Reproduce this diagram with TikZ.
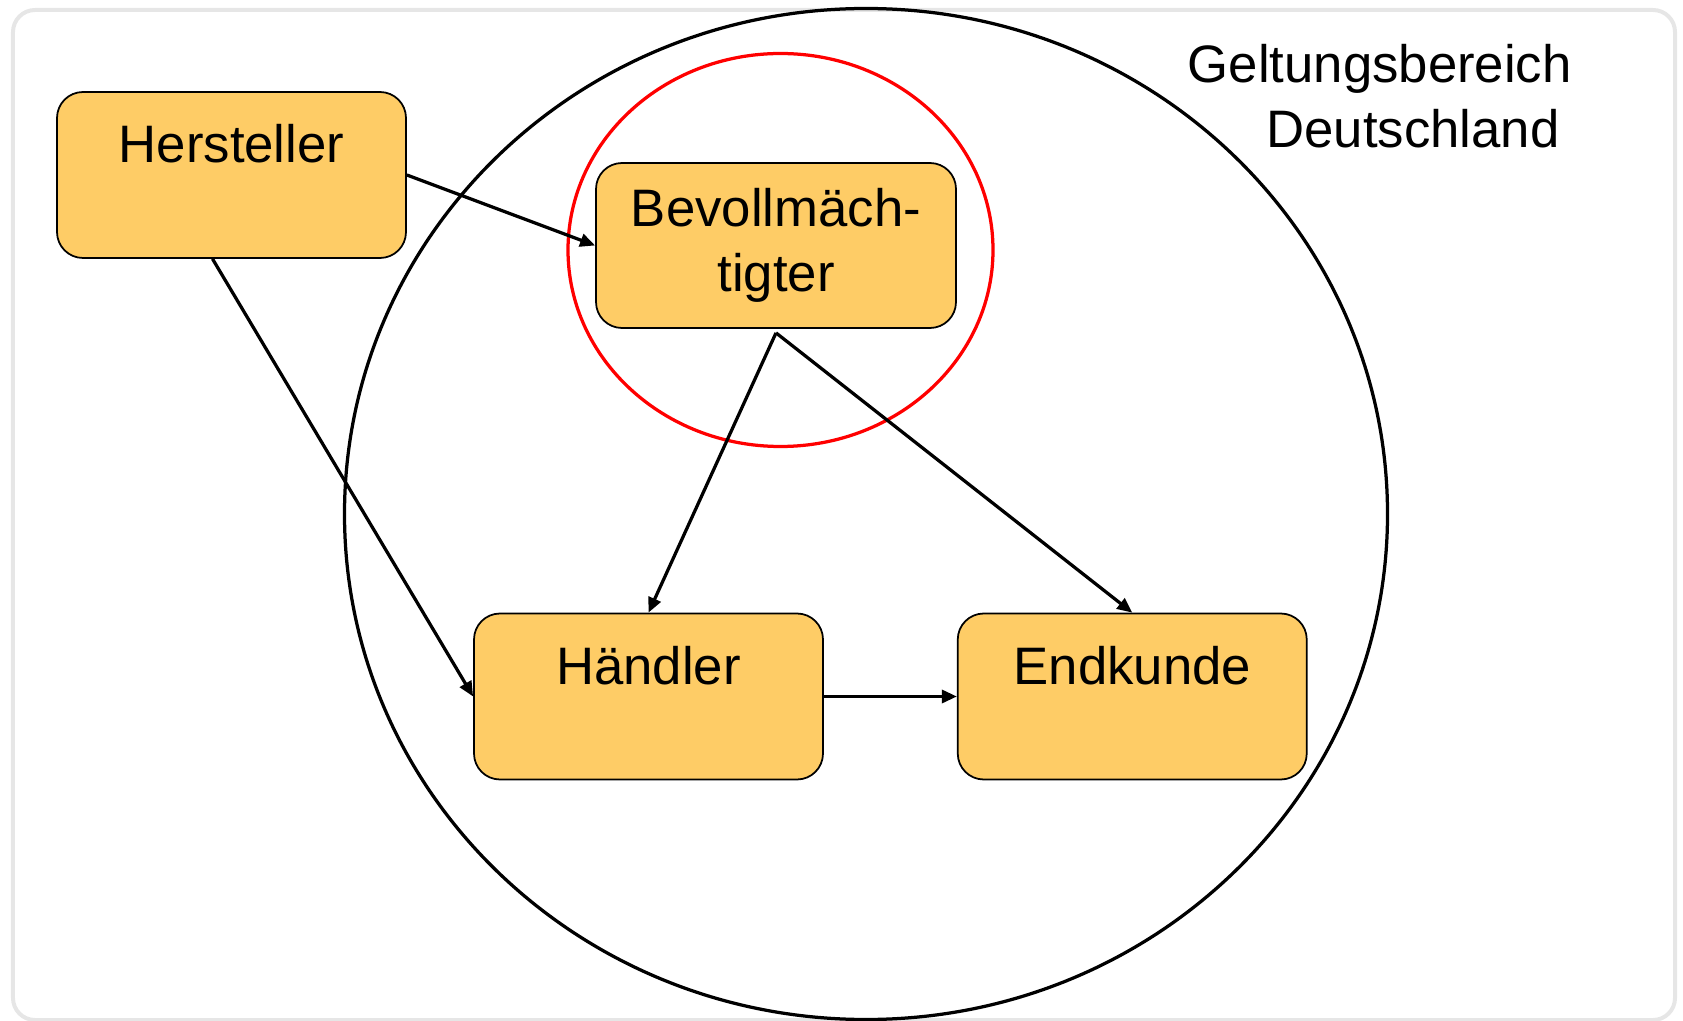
\documentclass[tikz,border=0pt]{standalone}
\usepackage{fontspec}
\setmainfont{Liberation Sans}
\usepackage{tikz}
\usetikzlibrary{arrows.meta, positioning}
\definecolor{boxgelb}{RGB}{254,204,102}
\definecolor{rahmengrau}{RGB}{230,230,230}
\tikzset{
  akteur/.style   = {draw, rounded corners=0.52cm, fill=boxgelb,
                     minimum width=6.98cm, minimum height=3.3cm,
                     line width=0.035cm, inner sep=0pt,
                     font=\fontsize{30}{37}\selectfont},
  oben/.style     = {text height=1.42cm, text depth=1.9cm},
  pfeil/.style    = {-{Triangle[length=0.3cm, width=0.26cm]}, line width=0.065cm},
  bereich/.style  = {line width=0.065cm, black},
  vollmacht/.style = {line width=0.065cm, red},
  rahmen/.style   = {draw=rahmengrau, line width=0.08cm, rounded corners=0.44cm},
}

\begin{document}
\begin{tikzpicture}
    \useasboundingbox (0,0) rectangle (33.66,-20.42);

    % --- frame ---
    \draw[rahmen] (0.26,-0.20) rectangle (33.50,-20.40);

    % --- areas ---
    \draw[bereich] (17.32,-10.28) ellipse (10.43cm and 10.11cm);
    \draw[vollmacht] (15.61,-5.00) ellipse (4.25cm and 3.93cm);
    \node[anchor=north east, inner sep=0pt, align=right,
          font=\fontsize{30}{37}\selectfont] (titel) at (31.44,-0.87)
      {Geltungsbereich\\Deutschland\hspace*{0.24cm}};

    % --- actors ---
    \node[akteur, oben] (hersteller) at (4.63,-3.50) {Hersteller};
    \node[akteur, minimum width=7.2cm, align=center] (bevoll) at (15.52,-4.91)
      {Bevollmäch-\\tigter};
    \node[akteur, oben] (haendler) at (12.97,-13.93) {Händler};
    \node[akteur, oben, right=2.66cm of haendler] (endkunde) {Endkunde};

    % --- delivery paths ---
    \draw[pfeil] (hersteller.east) -- (bevoll.west);
    \draw[pfeil] ([xshift=-0.38cm]hersteller.south) -- (haendler.west);
    \draw[pfeil] ([yshift=-0.08cm]bevoll.south) -- (haendler.north);
    \draw[pfeil] ([yshift=-0.08cm]bevoll.south) -- (endkunde.north);
    \draw[pfeil] (haendler.east) -- (endkunde.west);
\end{tikzpicture}
\end{document}
